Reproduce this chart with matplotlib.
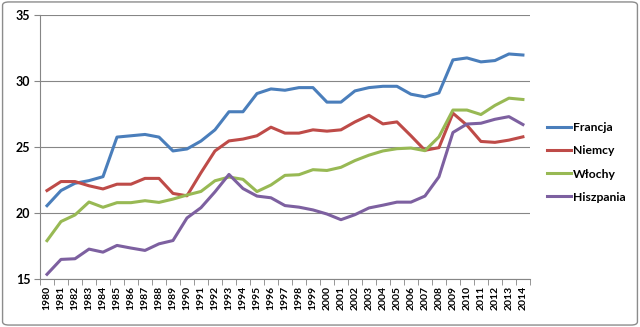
import matplotlib
matplotlib.use("Agg")
import matplotlib.pyplot as plt
from matplotlib.patches import FancyBboxPatch
import numpy as np

years = list(range(1980, 2015))
francja = [20.55, 21.7, 22.25, 22.45, 22.75, 25.75, 25.85, 25.95, 25.75, 24.7, 24.85,
           25.45, 26.3, 27.67, 27.67, 29.05, 29.4, 29.3, 29.5, 29.5, 28.4, 28.4,
           29.25, 29.5, 29.6, 29.6, 29.0, 28.8, 29.1, 31.6, 31.75, 31.45, 31.55, 32.05, 31.97]
niemcy = [21.7, 22.38, 22.38, 22.06, 21.82, 22.18, 22.18, 22.62, 22.62, 21.48, 21.3,
          23.05, 24.7, 25.46, 25.6, 25.85, 26.5, 26.05, 26.05, 26.3, 26.2, 26.3,
          26.9, 27.4, 26.75, 26.9, 25.85, 24.75, 24.95, 27.56, 26.65, 25.42, 25.35, 25.52, 25.77]
wlochy = [17.9, 19.35, 19.85, 20.83, 20.43, 20.78, 20.78, 20.93, 20.8, 21.05, 21.36,
          21.63, 22.44, 22.72, 22.55, 21.62, 22.12, 22.85, 22.9, 23.28, 23.22, 23.46,
          23.97, 24.38, 24.7, 24.87, 24.92, 24.72, 25.77, 27.8, 27.8, 27.46, 28.15, 28.7, 28.6]
hiszpania = [15.35, 16.48, 16.53, 17.26, 17.03, 17.54, 17.34, 17.16, 17.66, 17.91, 19.62,
             20.4, 21.6, 22.92, 21.85, 21.28, 21.15, 20.56, 20.44, 20.23, 19.92, 19.49,
             19.87, 20.38, 20.59, 20.82, 20.82, 21.28, 22.74, 26.1, 26.74, 26.8, 27.1, 27.3, 26.7]
series = [("Francja", francja, "#4A7EBB"),
          ("Niemcy", niemcy, "#BE4B48"),
          ("Włochy", wlochy, "#98B954"),
          ("Hiszpania", hiszpania, "#7D60A0")]
yticks = [15, 20, 25, 30, 35]

plt.rcParams['font.family'] = ['Lato', 'DejaVu Sans']

fig = plt.figure(figsize=(6.4, 3.27), dpi=100)
border = FancyBboxPatch((0.004, 0.006), 0.992, 0.988, boxstyle="round,pad=0,rounding_size=0.01",
                        transform=fig.transFigure, fill=False, edgecolor="#8C8C8C", linewidth=1.0)
fig.patches.append(border)

ax = fig.add_axes([0.0625, 0.147, 0.7655, 0.807])
x = np.arange(len(years))
handles = []
for name, vals, col in series:
    h, = ax.plot(x, vals, color=col, linewidth=2.2, label=name, solid_joinstyle='round')
    handles.append(h)

ax.set_xlim(-0.5, len(years) - 0.5)
ax.set_ylim(15, 35)
ax.set_yticks(yticks)
ax.set_yticklabels([str(t) for t in yticks], fontsize=9, fontweight='bold')
ax.set_xticks(x)
ax.set_xticklabels([str(y) for y in years], rotation=90, fontsize=7.5, fontweight='bold')
ax.set_xticks(np.arange(-0.5, len(years)), minor=True)
ax.tick_params(axis='x', which='major', length=0, pad=5)
ax.tick_params(axis='x', which='minor', length=4, color="#868686", direction='out')
ax.tick_params(axis='y', length=4, color="#868686", direction='out', pad=3)
ax.grid(axis='y', color="#868686", linewidth=0.8)
ax.set_axisbelow(True)
for s in ['top', 'right']:
    ax.spines[s].set_visible(False)
for s in ['left', 'bottom']:
    ax.spines[s].set_color("#868686")
    ax.spines[s].set_linewidth(0.8)

fig.legend(handles=handles, loc='center left', bbox_to_anchor=(0.855, 0.503), frameon=False,
           prop={'size': 8.7, 'weight': 'bold'}, handlelength=2.0, handletextpad=0.1,
           labelspacing=1.0, borderpad=0, borderaxespad=0)

fig.savefig("out.png", dpi=100)
